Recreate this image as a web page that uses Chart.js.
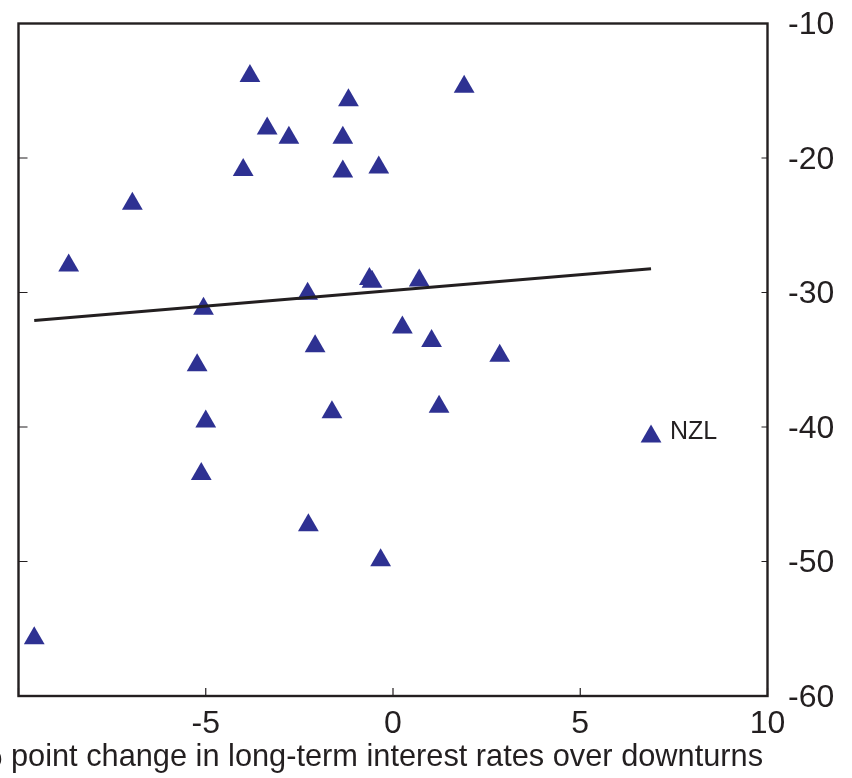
<!DOCTYPE html>
<html>
<head>
<meta charset="utf-8">
<script src="https://cdn.jsdelivr.net/npm/chart.js@4/dist/chart.umd.min.js"></script>
<style>
html, body { margin: 0; padding: 0; background: #fff; }
canvas { display: block; }
</style>
</head>
<body>
<canvas id="canvas" width="852" height="778"></canvas>
<script>
// % point change in long-term rates (x) against change over the downturn (y)
let rate_change = [-3.82, 1.90, -1.19, -3.36, -2.78, -1.34, -4.00, -1.34, -0.38, -6.96,
                   -8.66, -0.63, -0.56, 0.70, -2.28, -5.06, 0.25, 1.03, -2.08, 2.85,
                   -5.23, 1.23, -1.63, -5.00, -5.12, -2.26, -0.33, -9.58, 6.89];
let downturn_change = [-13.9, -14.7, -15.7, -17.8, -18.5, -18.5, -20.9, -21.0, -20.7, -23.4,
                       -28.0, -29.0, -29.2, -29.1, -30.1, -31.2, -32.6, -33.6, -34.0, -34.7,
                       -35.4, -38.5, -38.9, -39.6, -43.5, -47.3, -49.9, -55.7, -40.7];
let point_names = ["", "", "", "", "", "", "", "", "", "",
                   "", "", "", "", "", "", "", "", "", "",
                   "", "", "", "", "", "", "", "", "NZL"];

// fitted line, ends at the smallest and largest rate change
let fit_x = [-9.58, 6.89];
let fit_y = [-32.08, -28.23];

let x_ticks = [-10, -5, 0, 5, 10];
let y_ticks = [-10, -20, -30, -40, -50, -60];
let x_title = "% point change in long-term interest rates over downturns";

let INK = "#231f20";
let NAVY = "#2e3192";
let SANS = "'Liberation Sans', Arial, sans-serif";

let points = rate_change.map(function (x, i) { return {x: x, y: downturn_change[i]}; });
let fit = fit_x.map(function (x, i) { return {x: x, y: fit_y[i]}; });

// box around the plot with small inward ticks, point names and the x title
let frame_plugin = {
    id: "frame",
    beforeDatasetsDraw: function (chart) {
        let ctx = chart.ctx;
        let a = chart.chartArea;
        let xs = chart.scales.x;
        let ys = chart.scales.y;
        ctx.save();
        ctx.strokeStyle = INK;
        ctx.lineWidth = 1.2;
        ctx.beginPath();
        y_ticks.forEach(function (v) {
            let py = ys.getPixelForValue(v);
            ctx.moveTo(a.left, py); ctx.lineTo(a.left + 9, py);
            ctx.moveTo(a.right - 6, py); ctx.lineTo(a.right, py);
        });
        x_ticks.forEach(function (v) {
            let px = xs.getPixelForValue(v);
            ctx.moveTo(px, a.bottom); ctx.lineTo(px, a.bottom - 8);
        });
        ctx.stroke();
        ctx.lineWidth = 2.4;
        ctx.strokeRect(a.left, a.top, a.right - a.left, a.bottom - a.top);
        ctx.restore();
    },
    afterDatasetsDraw: function (chart) {
        let ctx = chart.ctx;
        let meta = chart.getDatasetMeta(1);
        ctx.save();
        ctx.fillStyle = INK;
        ctx.font = "25px " + SANS;
        ctx.textAlign = "left";
        ctx.textBaseline = "middle";
        point_names.forEach(function (name, i) {
            if (!name) return;
            let p = meta.data[i];
            ctx.fillText(name, p.x + 19, p.y - 4);
        });
        // title runs past the left edge, so no width limit here
        ctx.font = "30.75px " + SANS;
        ctx.textAlign = "right";
        ctx.textBaseline = "alphabetic";
        ctx.fillText(x_title, chart.chartArea.right - 4.5, chart.height - 12);
        ctx.restore();
    }
};

let ctx = document.getElementById("canvas").getContext("2d");
let chart = new Chart(ctx, {
    type: "scatter",
    data: {
        datasets: [{
            type: "line",
            data: fit,
            borderColor: INK,
            borderWidth: 3,
            pointRadius: 0,
            fill: false
        }, {
            data: points,
            pointStyle: "triangle",
            pointRadius: 12,
            pointHoverRadius: 12,
            backgroundColor: NAVY,
            borderWidth: 0
        }]
    },
    options: {
        responsive: false,
        animation: false,
        layout: { padding: { left: 18.5, top: 23.5, right: 0, bottom: 0 } },
        plugins: {
            legend: { display: false },
            tooltip: { enabled: false }
        },
        scales: {
            x: {
                type: "linear",
                min: -10,
                max: 10,
                afterBuildTicks: function (scale) {
                    scale.ticks = x_ticks.map(function (v) { return {value: v}; });
                },
                afterFit: function (scale) {
                    scale.height = 82;
                    scale.paddingLeft = 0;
                    scale.paddingRight = 0;
                },
                grid: { display: false, drawTicks: false },
                border: { display: false },
                ticks: {
                    padding: 9,
                    color: INK,
                    font: { family: SANS, size: 32 },
                    maxRotation: 0,
                    callback: function (v) { return v == -10 ? "" : v; }
                }
            },
            y: {
                type: "linear",
                position: "right",
                min: -60,
                max: -10,
                afterBuildTicks: function (scale) {
                    scale.ticks = y_ticks.map(function (v) { return {value: v}; });
                },
                afterFit: function (scale) {
                    scale.width = 84.5;
                    scale.paddingTop = 0;
                    scale.paddingBottom = 0;
                },
                grid: { display: false, drawTicks: false },
                border: { display: false },
                ticks: {
                    padding: 20.5,
                    labelOffset: 2,
                    color: INK,
                    font: { family: SANS, size: 32 }
                }
            }
        }
    },
    plugins: [frame_plugin]
});
</script>
</body>
</html>
